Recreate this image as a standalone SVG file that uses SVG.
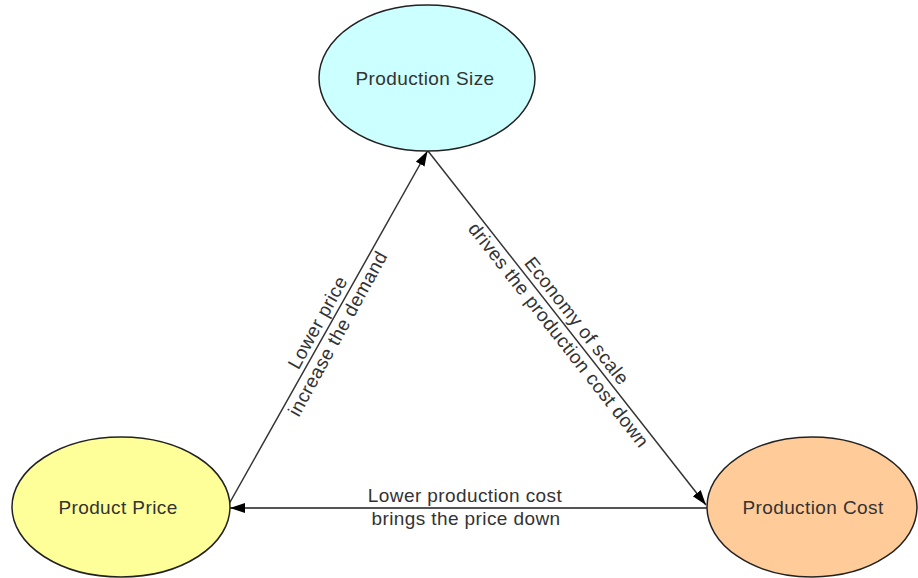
<svg xmlns="http://www.w3.org/2000/svg" width="918" height="578" viewBox="0 0 918 578">
<defs>
<marker id="arrow" markerUnits="userSpaceOnUse" markerWidth="16" markerHeight="12" refX="15" refY="5" orient="auto">
<path d="M0,0 L15,5 L0,10 z" fill="#000"/>
</marker>
<style>
.node ellipse{stroke:#222;stroke-width:1.5}
.label{font-family:"Liberation Sans",Arial,sans-serif;font-size:19px;letter-spacing:0.4px;fill:#333;text-anchor:middle}
.edge{stroke:#333;stroke-width:1.5;fill:none;marker-end:url(#arrow)}
</style>
</defs>
<rect width="918" height="578" fill="#fff"/>
<g id="connectors">
<line class="edge" x1="229" y1="504" x2="427.5" y2="151"/>
<line class="edge" x1="428" y1="151" x2="706" y2="505"/>
<line class="edge" x1="707" y1="508" x2="230" y2="508" style="stroke:#555;stroke-width:2"/>
<g transform="translate(328.5,328.5) rotate(-61.1)">
<text class="label" x="0" y="-6">Lower price</text>
<text class="label" x="0" y="17">increase the demand</text>
</g>
<g transform="translate(567,328.5) rotate(51.9)">
<text class="label" x="0" y="-6">Economy of scale</text>
<text class="label" x="0" y="17">drives the production cost down</text>
</g>
<text class="label" x="465" y="502">Lower production cost</text>
<text class="label" x="466" y="525">brings the price down</text>
</g>
<g id="production-size" class="node">
<ellipse cx="427" cy="78" rx="108" ry="73" fill="#CCFFFF"/>
<text class="label" x="425" y="85">Production Size</text>
</g>
<g id="product-price" class="node">
<ellipse cx="121" cy="507" rx="109" ry="70" fill="#FFFF99"/>
<text class="label" x="118" y="514">Product Price</text>
</g>
<g id="production-cost" class="node">
<ellipse cx="812" cy="507" rx="105" ry="70" fill="#FFCC99"/>
<text class="label" x="813" y="514">Production Cost</text>
</g>
</svg>
